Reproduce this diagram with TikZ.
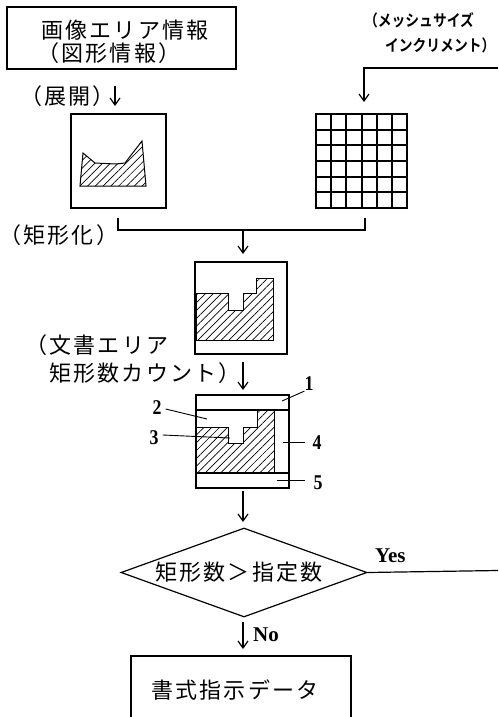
\documentclass[tikz,border=0pt]{standalone}
\usepackage{fontspec}
\setmainfont{Liberation Serif}
\newfontfamily\jpa[LetterSpace=10]{Noto Sans CJK JP}
\newfontfamily\jpm[BoldFont={Noto Sans CJK JP Bold}]{Noto Sans CJK JP}
\usetikzlibrary{arrows.meta,patterns.meta,shapes.geometric}
\begin{document}
\begin{tikzpicture}[x=1pt,y=-1pt,
  ln/.style={line width=1.2pt},
  lead/.style={line width=0.9pt},
  box/.style={draw,line width=1.2pt,inner sep=0pt},
  arr/.style={line width=1.2pt,-{Straight Barb[length=7pt,width=10pt,line width=1.2pt]}},
  hatch/.style={pattern={Lines[angle=45,distance=5.5pt,line width=0.7pt]}},
  jt/.style={inner sep=0pt,anchor=west,font=\jpa\fontsize{22}{26}\selectfont},
  mesh/.style={inner sep=0pt,anchor=west,font=\jpm\bfseries\fontsize{16}{16}\selectfont},
  num/.style={inner sep=0pt,font=\bfseries\fontsize{21}{21}\selectfont},
]
\useasboundingbox (0,0) rectangle (498,717);

% top box
\node[box, minimum width=229pt, minimum height=62pt] (top) at (121.5,38) {};
\node[jt] (t1) at (41,30) {画像エリア情報};
\node[jt] (t2) at (37,53) {（図形情報）};

% expand label and arrow
\node[jt] (exp) at (20,96) {（展開）};
\coordinate (a1s) at (115,86);
\coordinate (a1e) at (115,106);
\draw[arr] (a1s) -- (a1e);

% left box with figure
\node[box, minimum width=95pt, minimum height=94pt] (lbox) at (118.5,161) {};
\draw[line width=1pt,hatch] (80,186) -- (83,153) -- (95,163) -- (116,164) -- (125,163) -- (142,141) -- (146,186) -- cycle;

% mesh label
\node[mesh] (ml1) at (364,20) {\scalebox{0.86}[1]{（メッシュサイズ}};
\node[mesh] (ml2) at (385,45) {\scalebox{0.86}[1]{インクリメント）}};

% grid
\node[box, minimum width=91pt, minimum height=94pt] (grid) at (361.5,161) {};
\foreach \xx in {331,346,362,377,392} {
  \draw[ln] (\xx,114) -- (\xx,208);
}
\foreach \yy in {130,145,161,177,192} {
  \draw[ln] (316,\yy) -- (407,\yy);
}
\coordinate (mR) at (498,68);
\coordinate (mC) at (364,68);
\coordinate (mE) at (364,102);
\draw[arr] (mR) -- (mC) -- (mE);

% merge
\coordinate (g1) at (118,218);
\coordinate (g2) at (365,230);
\coordinate (g3) at (365,218);
\draw[ln] (g1) |- (g2) -- (g3);
\coordinate (m1) at (243,230);
\coordinate (m2) at (243,254);
\draw[arr] (m1) -- (m2);
\node[jt] (rect) at (-1,235) {（矩形化）};

% middle box
\node[box, minimum width=92pt, minimum height=92pt] (mbox) at (241,308) {};
\draw[line width=1pt,hatch] (196,293) -- (228,293) -- (228,310) -- (243,310) -- (243,293) -- (256,293) -- (256,278) -- (273,278) -- (273,340) -- (196,340) -- cycle;

% count label
\node[jt] (c1) at (25,345) {（文書エリア};
\node[jt] (c2) at (49,373) {矩形数カウント）};
\coordinate (b1) at (243,362);
\coordinate (b2) at (243,390);
\draw[arr] (b1) -- (b2);

% detail box
\node[box, minimum width=93pt, minimum height=93pt] (dbox) at (242.5,441.5) {};
\draw[line width=1pt,hatch] (196,427) -- (228,427) -- (228,443) -- (243,443) -- (243,427) -- (257,427) -- (257,410) -- (274,410) -- (274,473) -- (196,473) -- cycle;
\draw[ln] (196,410) -- (289,410);
\draw[ln] (196,473) -- (289,473);

\node[num] (n1) at (309,384) {\scalebox{0.85}[1]{1}};
\node[num] (n2) at (157,408) {\scalebox{0.85}[1]{2}};
\node[num] (n3) at (154,438) {\scalebox{0.85}[1]{3}};
\node[num] (n4) at (317,443) {\scalebox{0.85}[1]{4}};
\node[num] (n5) at (318,483) {\scalebox{0.85}[1]{5}};
\draw[lead] (282,401) -- (n1.south west);
\draw[lead] (n2.east) ++(4,1) -- (207,419);
\draw[lead] (n3.east) ++(4,-3) -- (230,438);
\draw[lead] (283,442) -- (305,442);
\draw[lead] (277,480) -- (305,480);

\coordinate (d1) at (243,491);
\coordinate (d2) at (243,522);
\draw[arr] (d1) -- (d2);

% decision
\node[draw, line width=1.2pt, diamond, aspect=2.76, minimum width=246pt, minimum height=89pt, inner sep=0pt] (dia) at (244,572.5) {};
\node[jt] (dt) at (155,572) {矩形数＞指定数};
\coordinate (yR) at (498,570.5);
\draw[ln] (dia.east) -- (yR);
\node[num, anchor=west] (yes) at (375,556) {Yes};
\coordinate (n0) at (243,622);
\coordinate (n9) at (243,649);
\draw[arr] (n0) -- (n9);
\node[num, anchor=west] (no) at (253,635) {No};

% bottom box
\coordinate (bb1) at (131,718);
\coordinate (bb2) at (351,656);
\coordinate (bb3) at (351,718);
\draw[ln] (bb1) |- (bb2) -- (bb3);
\node[jt] (bt) at (151,690) {書式指示データ};
\end{tikzpicture}
\end{document}
